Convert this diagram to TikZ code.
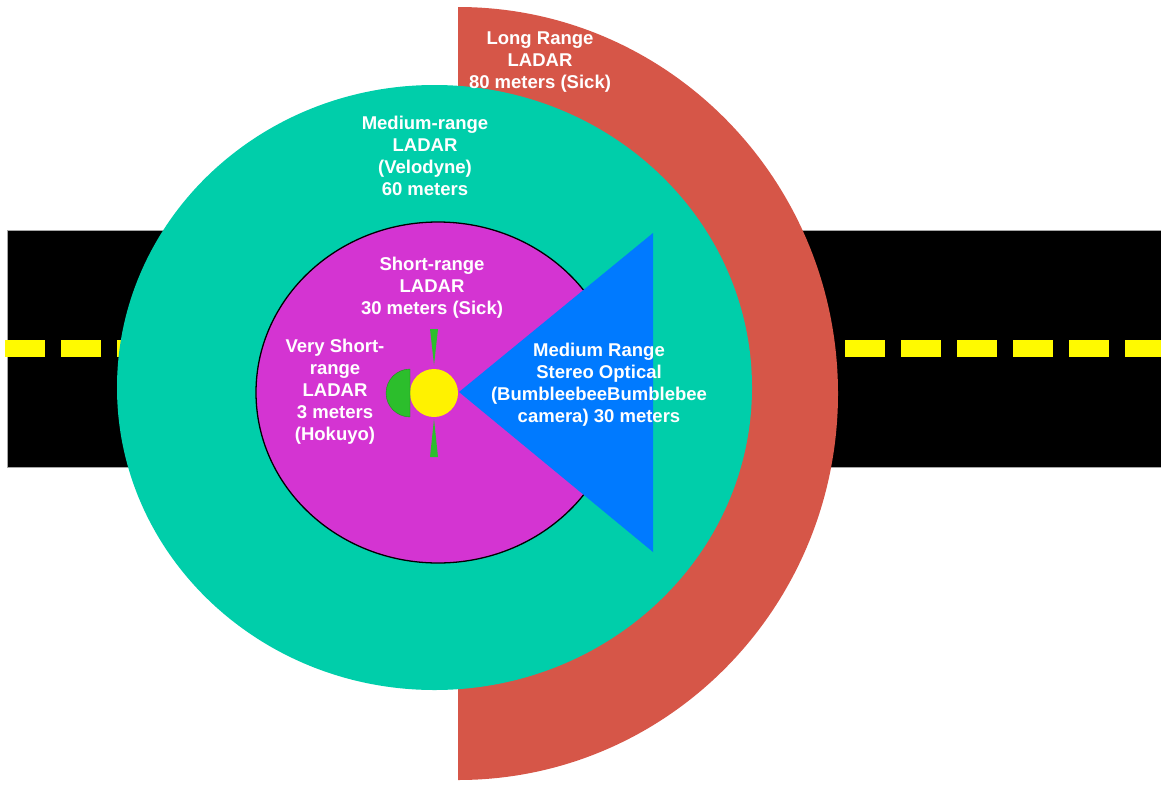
\documentclass[tikz,border=0pt]{standalone}
\usepackage{fontspec}
\setmainfont{Liberation Sans}
\definecolor{longred}{RGB}{214,86,72}
\definecolor{midteal}{RGB}{0,206,170}
\definecolor{shortpink}{RGB}{212,52,210}
\definecolor{stereoblue}{RGB}{0,122,255}
\definecolor{hokuyogreen}{RGB}{44,190,44}
\definecolor{lineyellow}{RGB}{255,250,0}

\begin{document}
\begin{tikzpicture}[x=0.03cm,y=-0.03cm,
  zone/.style={text=white,align=center,inner sep=0pt,
    font=\fontsize{15.8}{18.8}\selectfont\bfseries}]
\useasboundingbox (0,0) rectangle (1161,784);
\fill[black,draw=gray!70,line width=0.6pt] (7,230) rectangle (1166,467);
\foreach \x in {0,...,20}
  \fill[lineyellow] (5+56*\x,340) rectangle (45+56*\x,357);
\fill[longred] (458,7) arc[start angle=-90,end angle=90,x radius=380,y radius=386.5] -- cycle;
\fill[midteal] (434.5,387.5) ellipse[x radius=317.5,y radius=302.5];
\filldraw[fill=shortpink,draw=black,line width=1.1pt] (438,392.5) ellipse[x radius=182,y radius=170.5];
\fill[stereoblue] (459,392) -- (653,233) -- (653,552) -- cycle;
\fill[yellow] (434,393) circle[radius=24];
\filldraw[fill=hokuyogreen,draw=hokuyogreen!70!black,line width=0.3pt] (410,369) arc[start angle=-90,end angle=-270,radius=24] -- cycle;
\fill[hokuyogreen] (430,329) -- (438,329) -- (434,365) -- cycle;
\fill[hokuyogreen] (434,419) -- (438,457) -- (430,457) -- cycle;
\node[zone] (longrange) at (540,62) {Long Range\\LADAR\\80 meters (Sick)};
\node[zone] (medrange) at (425,156) {Medium-range\\LADAR\\(Velodyne)\\60 meters};
\node[zone] (shortrange) at (432,288) {Short-range\\LADAR\\30 meters (Sick)};
\node[zone] (veryshort) at (335,392) {Very Short-\\range\\LADAR\\3 meters\\(Hokuyo)};
\node[zone] (stereo) at (599,385) {Medium Range\\Stereo Optical\\(BumbleebeeBumblebee\\camera) 30 meters};
\end{tikzpicture}
\end{document}
